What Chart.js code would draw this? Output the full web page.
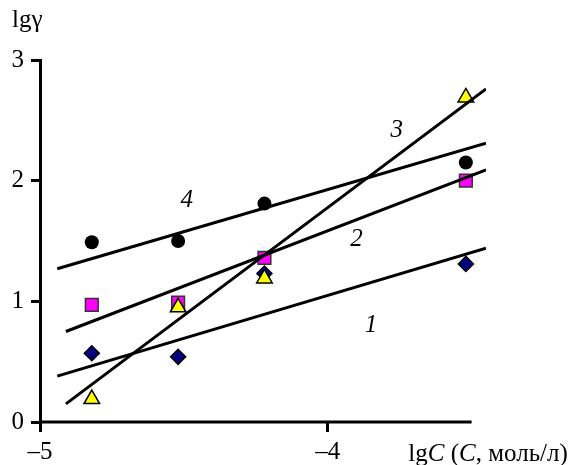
<!DOCTYPE html>
<html>
<head>
<meta charset="utf-8">
<script src="https://cdn.jsdelivr.net/npm/chart.js@4"></script>
<style>
body { margin: 0; background: #fff; }
#wrap { width: 581px; height: 465px; }
</style>
</head>
<body>
<div id="wrap"><canvas id="myChart"></canvas></div>
<script>
// measured points, x = lgC
var lgC = [-4.82, -4.52, -4.22, -3.52];
var series1 = [0.57, 0.54, 1.23, 1.31];
var series2 = [0.97, 0.99, 1.36, 2.00];
var series3 = [0.19, 0.95, 1.19, 2.69];
var series4 = [1.49, 1.50, 1.81, 2.15];

// fitted straight lines (end points)
var fit1X = [-4.94, -3.45], fit1Y = [0.38, 1.44];
var fit2X = [-4.91, -3.45], fit2Y = [0.75, 2.09];
var fit3X = [-4.91, -3.45], fit3Y = [0.15, 2.76];
var fit4X = [-4.94, -3.45], fit4Y = [1.27, 2.31];

var lineNames = ['1', '2', '3', '4'];
var xTicks = [-5, -4];
var xTickLabels = ['–5', '–4'];
var yTicks = [0, 1, 2, 3];

var FONT = '"Liberation Serif", "Times New Roman", serif';
var FS = 25;

function pts(xs, ys) {
    var out = [];
    for (var i = 0; i < xs.length; i++) out.push({x: xs[i], y: ys[i]});
    return out;
}

function fitLine(xs, ys) {
    return {
        type: 'line',
        data: pts(xs, ys),
        borderColor: '#000',
        borderWidth: 3,
        pointRadius: 0,
        fill: false,
        order: 0
    };
}

var extras = {
    id: 'extras',
    afterDraw: function(chart) {
        var ctx = chart.ctx;
        var xs = chart.scales.x, ys = chart.scales.y;
        var area = chart.chartArea;
        ctx.save();
        // x axis line (stops short of the plot end)
        ctx.strokeStyle = '#000';
        ctx.lineWidth = 3;
        ctx.beginPath();
        ctx.moveTo(area.left, ys.getPixelForValue(0));
        ctx.lineTo(xs.getPixelForValue(-3.5), ys.getPixelForValue(0));
        ctx.stroke();

        // line numbers
        var labelAt = [[-3.85, 0.80], [-3.90, 1.51], [-3.76, 2.42], [-4.49, 1.84]];
        ctx.fillStyle = '#000';
        ctx.font = 'italic ' + FS + 'px ' + FONT;
        ctx.textAlign = 'center';
        ctx.textBaseline = 'middle';
        for (var i = 0; i < lineNames.length; i++) {
            ctx.fillText(lineNames[i], xs.getPixelForValue(labelAt[i][0]), ys.getPixelForValue(labelAt[i][1]));
        }

        // axis titles
        ctx.textAlign = 'left';
        ctx.textBaseline = 'alphabetic';
        ctx.font = FS + 'px ' + FONT;
        ctx.fillText('lgγ', area.left - 28, area.top - 33);

        var parts = [['lg', false], ['C', true], [' (', false], ['C', true], [', моль/л)', false]];
        var px = xs.getPixelForValue(-3.72);
        var py = area.bottom + 39;
        parts.forEach(function(p) {
            ctx.font = (p[1] ? 'italic ' : '') + FS + 'px ' + FONT;
            ctx.fillText(p[0], px, py);
            px += ctx.measureText(p[0]).width;
        });
        ctx.restore();
    }
};

const ctx = document.getElementById('myChart');
const myChart = new Chart(ctx, {
    type: 'scatter',
    data: {
        datasets: [
            fitLine(fit1X, fit1Y),
            fitLine(fit2X, fit2Y),
            fitLine(fit3X, fit3Y),
            fitLine(fit4X, fit4Y),
            {
                label: '4',
                data: pts(lgC, series4),
                pointStyle: 'circle',
                pointRadius: 7,
                backgroundColor: '#000',
                borderColor: '#000',
                borderWidth: 0,
                order: 2
            },
            {
                label: '1',
                data: pts(lgC, series1),
                pointStyle: 'rectRot',
                pointRadius: 7.5,
                backgroundColor: '#000080',
                borderColor: '#000',
                borderWidth: 1.5,
                order: 4
            },
            {
                label: '2',
                data: pts(lgC, series2),
                pointStyle: 'rect',
                pointRadius: 9,
                backgroundColor: '#ff00ff',
                borderColor: '#333',
                borderWidth: 1.5,
                order: 3
            },
            {
                label: '3',
                data: pts(lgC, series3),
                pointStyle: 'triangle',
                pointRadius: 9,
                backgroundColor: '#ffff00',
                borderColor: '#000',
                borderWidth: 1.5,
                order: 1
            }
        ]
    },
    options: {
        responsive: true,
        maintainAspectRatio: false,
        animation: false,
        layout: { padding: { top: 60, right: 95, left: 0, bottom: 0 } },
        plugins: {
            legend: { display: false },
            tooltip: { enabled: false }
        },
        scales: {
            x: {
                type: 'linear',
                min: -5,
                max: -3.45,
                afterBuildTicks: function(scale) {
                    scale.ticks = xTicks.map(function(v) { return {value: v}; });
                },
                afterFit: function(scale) { scale.height = 43; },
                border: { display: false },
                grid: {
                    drawOnChartArea: false,
                    tickLength: 10,
                    tickWidth: 3,
                    tickColor: '#000'
                },
                ticks: {
                    color: '#000',
                    padding: 5,
                    maxRotation: 0,
                    font: { family: FONT, size: FS },
                    callback: function(v) {
                        var k = xTicks.indexOf(v);
                        return k >= 0 ? xTickLabels[k] : '';
                    }
                }
            },
            y: {
                type: 'linear',
                min: 0,
                max: 3,
                afterBuildTicks: function(scale) {
                    scale.ticks = yTicks.map(function(v) { return {value: v}; });
                },
                afterFit: function(scale) { scale.width = 40; },
                border: { display: true, color: '#000', width: 3 },
                grid: {
                    drawOnChartArea: false,
                    tickLength: 9,
                    tickWidth: 3,
                    tickColor: '#000'
                },
                ticks: {
                    color: '#000',
                    padding: 7,
                    font: { family: FONT, size: FS }
                }
            }
        }
    },
    plugins: [extras]
});
</script>
</body>
</html>
